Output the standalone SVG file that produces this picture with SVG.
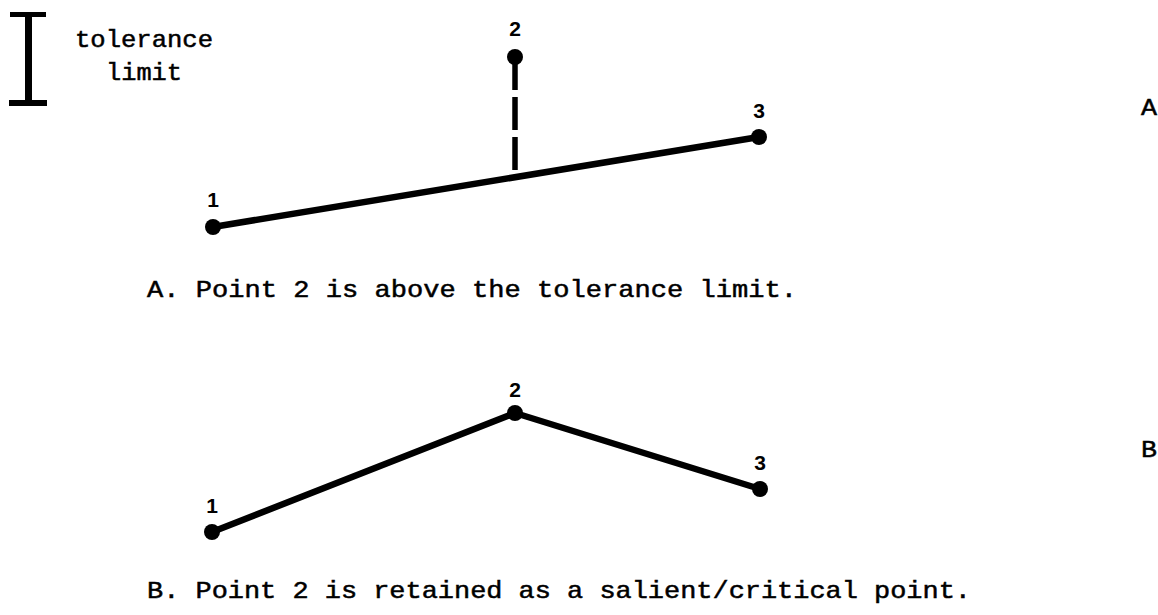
<svg xmlns="http://www.w3.org/2000/svg" width="1158" height="615" viewBox="0 0 1158 615">
<style>
.t{font-family:"Liberation Mono","DejaVu Sans Mono",monospace;font-size:24px;fill:#000;stroke:#000;stroke-width:0.5}
.lab{font-family:"Liberation Sans Narrow","Liberation Sans",Arial,sans-serif;font-size:21px;font-weight:bold;fill:#000;text-anchor:middle}
.ln{stroke:#000;stroke-width:6.5;fill:none;stroke-linecap:round;stroke-linejoin:round}
.dash{stroke:#000;stroke-width:5.5;fill:none;stroke-dasharray:33 7}
.dot{fill:#000}
</style>
<rect width="1158" height="615" fill="#fff"/>
<g id="legend">
<rect x="10" y="12" width="36" height="5"/>
<rect x="25" y="12" width="7" height="94"/>
<rect x="9" y="100" width="38" height="6"/>
<text class="t" x="75" y="47" textLength="138" lengthAdjust="spacingAndGlyphs">tolerance</text>
<text class="t" x="106" y="80" textLength="76" lengthAdjust="spacingAndGlyphs">limit</text>
</g>
<g id="connectors">
<line class="ln" x1="213" y1="227" x2="759" y2="137"/>
<line class="dash" x1="515" y1="57" x2="515" y2="177"/>
<polyline class="ln" points="212,532 515,413 760,489"/>
</g>
<g id="A-p1"><circle class="dot" cx="213" cy="227" r="8"/><text class="lab" x="213" y="207">1</text></g>
<g id="A-p2"><circle class="dot" cx="515" cy="57" r="8"/><text class="lab" x="515" y="36">2</text></g>
<g id="A-p3"><circle class="dot" cx="759" cy="137" r="8"/><text class="lab" x="759" y="118">3</text></g>
<g id="B-p1"><circle class="dot" cx="212" cy="532" r="8"/><text class="lab" x="212" y="513">1</text></g>
<g id="B-p2"><circle class="dot" cx="515" cy="413" r="8"/><text class="lab" x="515" y="397">2</text></g>
<g id="B-p3"><circle class="dot" cx="760" cy="489" r="8"/><text class="lab" x="760" y="470">3</text></g>
<text class="t" x="1141" y="115" textLength="16" lengthAdjust="spacingAndGlyphs">A</text>
<text class="t" x="1141" y="457" textLength="16" lengthAdjust="spacingAndGlyphs">B</text>
<text class="t" x="147" y="297" textLength="650" lengthAdjust="spacingAndGlyphs">A.  Point 2 is above the tolerance limit.</text>
<text class="t" x="147" y="598" textLength="824" lengthAdjust="spacingAndGlyphs">B.  Point 2 is retained as a salient/critical point.</text>
</svg>
